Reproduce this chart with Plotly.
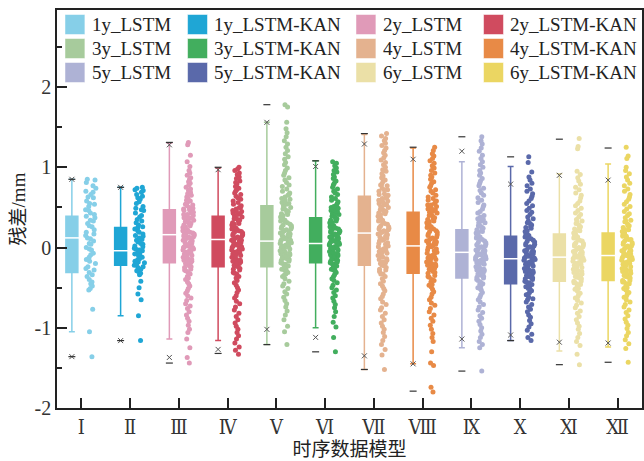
import plotly.graph_objects as go

# ---------------- data ----------------
names = ["1y_LSTM", "1y_LSTM-KAN", "2y_LSTM", "2y_LSTM-KAN", "3y_LSTM", "3y_LSTM-KAN",
         "4y_LSTM", "4y_LSTM-KAN", "5y_LSTM", "5y_LSTM-KAN", "6y_LSTM", "6y_LSTM-KAN"]
tick_labels = ["Ⅰ", "Ⅱ", "Ⅲ", "Ⅳ", "Ⅴ", "Ⅵ", "Ⅶ", "Ⅷ", "Ⅸ", "Ⅹ", "Ⅺ", "Ⅻ"]
y_tick_values = [-2, -1, 0, 1, 2]
y_tick_labels = ["-2", "-1", "0", "1", "2"]
colors = ["#86CFE8", "#1FA6D5", "#E09AB8", "#D04B5F", "#A7CB9C", "#42AE5E",
          "#E4B28F", "#E88A46", "#AEB2D5", "#5A69AA", "#EBE0A7", "#EBD662"]

q1 = [-0.31, -0.22, -0.19, -0.24, -0.24, -0.19, -0.22, -0.32, -0.38, -0.45, -0.42, -0.41]
median = [0.12, -0.04, 0.16, 0.10, 0.08, 0.05, 0.18, 0.02, -0.06, -0.14, -0.12, -0.10]
q3 = [0.39, 0.25, 0.47, 0.39, 0.52, 0.37, 0.64, 0.44, 0.22, 0.14, 0.17, 0.18]
whisker_low = [-1.05, -0.85, -1.14, -1.16, -1.21, -1.00, -1.52, -1.45, -1.25, -1.16, -1.29, -1.24]
whisker_high = [0.85, 0.75, 1.30, 0.99, 1.56, 1.08, 1.41, 1.24, 1.07, 1.01, 0.92, 1.04]
p1 = [-1.36, -1.16, -1.37, -1.27, -1.02, -1.12, -1.35, -1.45, -1.14, -1.09, -1.18, -1.19]
p99 = [0.85, 0.75, 1.28, 0.97, 1.56, 1.01, 1.29, 1.10, 1.20, 0.79, 0.90, 0.84]
min_v = [-1.36, -1.16, -1.44, -1.32, -1.21, -1.30, -1.52, -1.79, -1.54, -1.16, -1.46, -1.43]
max_v = [0.85, 0.75, 1.31, 1.00, 1.78, 1.08, 1.42, 1.25, 1.38, 1.13, 1.35, 1.24]

# residual points, spread over the full range of each column
s1 = [0.85, 0.84, 0.81, 0.77, 0.74, 0.70, 0.69, 0.66, 0.63, 0.62, 0.58, 0.55, 0.54, 0.51, 0.47, 0.46,
      0.43, 0.41, 0.39, 0.37, 0.34, 0.33, 0.30, 0.27, 0.26, 0.22, 0.19, 0.17, 0.15, 0.12, 0.11, 0.08,
      0.05, 0.04, 0.00, -0.02, -0.03, -0.07, -0.09, -0.12, -0.15, -0.17, -0.20, -0.24, -0.26, -0.28,
      -0.31, -0.34, -0.36, -0.40, -0.43, -0.45, -0.48, -0.51, -0.53, -0.77, -1.05, -1.36]
s2 = [0.75, 0.74, 0.72, 0.71, 0.69, 0.66, 0.64, 0.62, 0.60, 0.57, 0.55, 0.51, 0.49, 0.47, 0.46, 0.43,
      0.40, 0.38, 0.35, 0.33, 0.31, 0.28, 0.26, 0.25, 0.23, 0.21, 0.19, 0.17, 0.15, 0.14, 0.12, 0.10,
      0.09, 0.07, 0.05, 0.04, 0.02, 0.01, -0.01, -0.02, -0.03, -0.04, -0.05, -0.07, -0.08, -0.09,
      -0.11, -0.12, -0.14, -0.15, -0.17, -0.18, -0.19, -0.21, -0.22, -0.24, -0.25, -0.27, -0.29,
      -0.30, -0.32, -0.34, -0.42, -0.50, -0.58, -0.65, -0.85, -1.16]
s3 = [1.31, 1.28, 1.15, 1.07, 1.01, 0.96, 0.93, 0.90, 0.87, 0.85, 0.82, 0.80, 0.78, 0.75, 0.73, 0.71,
      0.69, 0.67, 0.65, 0.63, 0.61, 0.59, 0.57, 0.55, 0.54, 0.52, 0.50, 0.49, 0.47, 0.46, 0.44, 0.43,
      0.41, 0.40, 0.38, 0.37, 0.35, 0.34, 0.32, 0.31, 0.29, 0.28, 0.26, 0.25, 0.23, 0.22, 0.21, 0.19,
      0.18, 0.17, 0.16, 0.14, 0.13, 0.12, 0.10, 0.09, 0.07, 0.06, 0.04, 0.03, 0.01, 0.00, -0.02, -0.03,
      -0.05, -0.06, -0.08, -0.09, -0.11, -0.12, -0.14, -0.15, -0.17, -0.18, -0.19, -0.21, -0.23, -0.25,
      -0.27, -0.29, -0.31, -0.33, -0.36, -0.38, -0.40, -0.43, -0.45, -0.48, -0.51, -0.54, -0.57, -0.60,
      -0.63, -0.66, -0.70, -0.73, -0.76, -0.80, -0.84, -0.88, -0.92, -0.97, -1.02, -1.06, -1.14, -1.25,
      -1.37, -1.44]
s4 = [1.00, 0.98, 0.96, 0.93, 0.91, 0.88, 0.86, 0.83, 0.81, 0.79, 0.76, 0.74, 0.72, 0.70, 0.68, 0.66,
      0.64, 0.62, 0.60, 0.58, 0.56, 0.54, 0.52, 0.50, 0.48, 0.46, 0.45, 0.43, 0.41, 0.40, 0.38, 0.36,
      0.35, 0.33, 0.31, 0.30, 0.28, 0.26, 0.25, 0.23, 0.21, 0.20, 0.18, 0.17, 0.15, 0.13, 0.12, 0.10,
      0.09, 0.07, 0.05, 0.04, 0.02, 0.00, -0.01, -0.03, -0.05, -0.06, -0.08, -0.10, -0.11, -0.13, -0.15,
      -0.17, -0.18, -0.20, -0.22, -0.24, -0.26, -0.28, -0.31, -0.33, -0.36, -0.38, -0.41, -0.44, -0.47,
      -0.50, -0.53, -0.56, -0.60, -0.63, -0.67, -0.70, -0.74, -0.78, -0.82, -0.86, -0.90, -0.94, -0.98,
      -1.02, -1.06, -1.10, -1.14, -1.19, -1.24, -1.28, -1.33]
s5 = [1.78, 1.75, 1.56, 1.48, 1.43, 1.38, 1.33, 1.29, 1.25, 1.21, 1.17, 1.13, 1.10, 1.06, 1.03, 0.99,
      0.96, 0.93, 0.90, 0.87, 0.84, 0.81, 0.78, 0.76, 0.73, 0.70, 0.68, 0.65, 0.63, 0.60, 0.58, 0.56,
      0.54, 0.52, 0.50, 0.48, 0.46, 0.44, 0.42, 0.40, 0.38, 0.36, 0.34, 0.33, 0.31, 0.29, 0.27, 0.26,
      0.24, 0.22, 0.21, 0.19, 0.17, 0.16, 0.14, 0.12, 0.11, 0.09, 0.08, 0.06, 0.05, 0.03, 0.02, 0.00,
      -0.01, -0.03, -0.04, -0.06, -0.07, -0.09, -0.10, -0.12, -0.14, -0.15, -0.17, -0.19, -0.21, -0.23,
      -0.25, -0.27, -0.29, -0.31, -0.34, -0.36, -0.39, -0.42, -0.45, -0.48, -0.51, -0.55, -0.58, -0.62,
      -0.66, -0.70, -0.74, -0.79, -0.84, -0.90, -0.98, -1.05, -1.21]
s6 = [1.07, 1.05, 1.02, 0.99, 0.96, 0.94, 0.91, 0.88, 0.86, 0.83, 0.80, 0.78, 0.75, 0.73, 0.70, 0.68,
      0.66, 0.63, 0.61, 0.59, 0.57, 0.55, 0.53, 0.51, 0.49, 0.47, 0.45, 0.43, 0.41, 0.40, 0.38, 0.36,
      0.35, 0.33, 0.31, 0.30, 0.28, 0.27, 0.25, 0.24, 0.22, 0.21, 0.19, 0.18, 0.16, 0.15, 0.13, 0.12,
      0.11, 0.09, 0.08, 0.06, 0.05, 0.04, 0.02, 0.01, -0.01, -0.02, -0.04, -0.05, -0.07, -0.08, -0.10,
      -0.11, -0.13, -0.14, -0.16, -0.18, -0.19, -0.21, -0.23, -0.25, -0.27, -0.29, -0.31, -0.34, -0.36,
      -0.39, -0.41, -0.44, -0.47, -0.50, -0.53, -0.56, -0.60, -0.63, -0.67, -0.71, -0.75, -0.80, -0.86,
      -0.93, -0.99, -1.12, -1.30]
s7 = [1.42, 1.39, 1.36, 1.33, 1.30, 1.27, 1.24, 1.21, 1.18, 1.15, 1.12, 1.09, 1.06, 1.03, 1.00, 0.97,
      0.95, 0.92, 0.89, 0.87, 0.84, 0.82, 0.79, 0.77, 0.74, 0.72, 0.70, 0.67, 0.65, 0.63, 0.61, 0.59,
      0.57, 0.55, 0.53, 0.51, 0.49, 0.47, 0.45, 0.43, 0.41, 0.39, 0.37, 0.35, 0.33, 0.31, 0.29, 0.27,
      0.25, 0.23, 0.21, 0.19, 0.18, 0.16, 0.14, 0.12, 0.10, 0.08, 0.06, 0.04, 0.02, 0.00, -0.02, -0.04,
      -0.06, -0.08, -0.10, -0.12, -0.14, -0.16, -0.18, -0.20, -0.22, -0.25, -0.27, -0.30, -0.33, -0.36,
      -0.39, -0.42, -0.45, -0.48, -0.51, -0.54, -0.58, -0.61, -0.64, -0.68, -0.71, -0.75, -0.78, -0.82,
      -0.86, -0.90, -0.94, -0.98, -1.02, -1.06, -1.11, -1.16, -1.21, -1.27, -1.34, -1.52]
s8 = [1.25, 1.21, 1.17, 1.14, 1.11, 1.08, 1.05, 1.02, 0.99, 0.96, 0.93, 0.90, 0.88, 0.85, 0.82, 0.80,
      0.77, 0.75, 0.72, 0.70, 0.68, 0.65, 0.63, 0.61, 0.59, 0.57, 0.55, 0.53, 0.51, 0.49, 0.47, 0.45,
      0.43, 0.41, 0.39, 0.37, 0.35, 0.33, 0.31, 0.29, 0.27, 0.25, 0.23, 0.21, 0.19, 0.17, 0.15, 0.13,
      0.11, 0.10, 0.08, 0.06, 0.04, 0.02, 0.00, -0.02, -0.04, -0.06, -0.08, -0.10, -0.12, -0.14, -0.16,
      -0.18, -0.20, -0.22, -0.24, -0.26, -0.28, -0.30, -0.32, -0.35, -0.37, -0.40, -0.43, -0.46, -0.49,
      -0.52, -0.55, -0.58, -0.62, -0.65, -0.69, -0.72, -0.76, -0.80, -0.84, -0.88, -0.92, -0.97, -1.02,
      -1.07, -1.12, -1.17, -1.30, -1.44, -1.47, -1.74, -1.80]
s9 = [1.38, 1.33, 1.29, 1.24, 1.20, 1.15, 1.11, 1.07, 1.03, 1.00, 0.96, 0.93, 0.90, 0.86, 0.83, 0.80,
      0.77, 0.74, 0.71, 0.68, 0.65, 0.62, 0.59, 0.56, 0.53, 0.51, 0.48, 0.45, 0.43, 0.40, 0.38, 0.35,
      0.33, 0.31, 0.28, 0.26, 0.24, 0.22, 0.20, 0.18, 0.16, 0.14, 0.12, 0.10, 0.08, 0.06, 0.04, 0.03,
      0.01, -0.01, -0.03, -0.04, -0.06, -0.08, -0.09, -0.11, -0.13, -0.15, -0.16, -0.18, -0.20, -0.22,
      -0.24, -0.26, -0.28, -0.30, -0.32, -0.34, -0.36, -0.38, -0.40, -0.43, -0.45, -0.48, -0.50, -0.53,
      -0.56, -0.59, -0.62, -0.65, -0.68, -0.71, -0.74, -0.78, -0.81, -0.85, -0.88, -0.92, -0.96, -1.00,
      -1.04, -1.08, -1.12, -1.17, -1.21, -1.25, -1.54]
s10 = [1.13, 1.06, 0.94, 0.88, 0.84, 0.80, 0.77, 0.73, 0.70, 0.67, 0.64, 0.61, 0.58, 0.55, 0.52, 0.49,
       0.46, 0.44, 0.41, 0.38, 0.36, 0.33, 0.31, 0.28, 0.26, 0.24, 0.21, 0.19, 0.17, 0.15, 0.13, 0.11,
       0.09, 0.07, 0.05, 0.03, 0.01, -0.01, -0.03, -0.05, -0.07, -0.09, -0.11, -0.13, -0.14, -0.16,
       -0.18, -0.20, -0.22, -0.24, -0.26, -0.28, -0.30, -0.32, -0.34, -0.36, -0.38, -0.40, -0.42, -0.44,
       -0.46, -0.49, -0.51, -0.54, -0.56, -0.59, -0.62, -0.65, -0.68, -0.71, -0.74, -0.77, -0.80, -0.84,
       -0.87, -0.91, -0.95, -0.99, -1.03, -1.08, -1.12, -1.16]
s11 = [1.36, 1.26, 1.23, 0.95, 0.91, 0.87, 0.83, 0.79, 0.75, 0.72, 0.68, 0.65, 0.62, 0.58, 0.55, 0.52,
       0.49, 0.46, 0.43, 0.41, 0.38, 0.35, 0.33, 0.30, 0.28, 0.25, 0.23, 0.21, 0.18, 0.16, 0.14, 0.12,
       0.10, 0.08, 0.06, 0.04, 0.02, 0.00, -0.02, -0.04, -0.06, -0.08, -0.10, -0.12, -0.13, -0.15, -0.17,
       -0.19, -0.21, -0.23, -0.25, -0.27, -0.29, -0.31, -0.33, -0.35, -0.37, -0.39, -0.42, -0.44, -0.46,
       -0.49, -0.51, -0.54, -0.57, -0.60, -0.63, -0.66, -0.69, -0.72, -0.75, -0.79, -0.82, -0.86, -0.90,
       -0.94, -0.98, -1.02, -1.07, -1.12, -1.17, -1.22, -1.33, -1.46]
s12 = [1.25, 1.14, 1.11, 1.00, 0.96, 0.92, 0.88, 0.84, 0.80, 0.77, 0.73, 0.70, 0.66, 0.63, 0.60, 0.57,
       0.54, 0.51, 0.48, 0.45, 0.42, 0.40, 0.37, 0.34, 0.32, 0.29, 0.27, 0.25, 0.22, 0.20, 0.18, 0.16,
       0.14, 0.12, 0.10, 0.08, 0.06, 0.04, 0.02, 0.00, -0.02, -0.04, -0.06, -0.08, -0.10, -0.12, -0.14,
       -0.16, -0.18, -0.20, -0.22, -0.24, -0.26, -0.28, -0.30, -0.32, -0.34, -0.36, -0.38, -0.41, -0.43,
       -0.45, -0.48, -0.50, -0.53, -0.56, -0.59, -0.62, -0.65, -0.68, -0.71, -0.74, -0.78, -0.81, -0.85,
       -0.89, -0.93, -0.97, -1.01, -1.06, -1.10, -1.15, -1.20, -1.26, -1.43]

# extra residual points around the centre of each column (where the reference is densest)
c3 = [0.58, 0.53, 0.48, 0.44, 0.41, 0.37, 0.33, 0.30, 0.27, 0.24, 0.20, 0.17, 0.15, 0.11, 0.08, 0.05,
      0.02, -0.01, -0.04, -0.07, -0.10, -0.13, -0.16, -0.20, -0.24, -0.28, 0.36, 0.22, 0.13, 0.00]
c4 = [0.50, 0.45, 0.42, 0.37, 0.34, 0.29, 0.27, 0.22, 0.19, 0.16, 0.14, 0.11, 0.08, 0.06, 0.03, 0.01,
      -0.02, -0.04, -0.07, -0.09, -0.12, -0.16, -0.19, -0.23, -0.27, -0.32, 0.24, 0.09]
c5 = [0.66, 0.61, 0.55, 0.49, 0.45, 0.41, 0.37, 0.32, 0.28, 0.25, 0.20, 0.18, 0.15, 0.13, 0.10, 0.07,
      0.04, 0.01, -0.02, -0.05, -0.08, -0.11, -0.13, -0.16, -0.20, -0.24, -0.28, -0.33, 0.35, 0.23]
c6 = [0.50, 0.46, 0.42, 0.39, 0.34, 0.31, 0.29, 0.26, 0.23, 0.20, 0.17, 0.14, 0.12, 0.10, 0.07, 0.05,
      0.03, 0.00, -0.03, -0.06, -0.09, -0.12, -0.15, -0.17, -0.20, -0.24, -0.28, 0.21, 0.08, -0.01]
c7 = [0.78, 0.72, 0.66, 0.62, 0.58, 0.54, 0.50, 0.46, 0.42, 0.38, 0.34, 0.30, 0.26, 0.22, 0.19, 0.17,
      0.13, 0.09, 0.05, 0.01, -0.03, -0.07, -0.11, -0.15, -0.19, -0.23, -0.28, -0.33, 0.44, 0.24, 0.11,
      -0.05]
c8 = [0.58, 0.53, 0.48, 0.44, 0.40, 0.36, 0.32, 0.28, 0.24, 0.20, 0.16, 0.12, 0.09, 0.05, 0.03, 0.01,
      -0.03, -0.07, -0.11, -0.15, -0.19, -0.23, -0.27, -0.31, -0.36, -0.41, -0.47, 0.26, 0.07, -0.13,
      -0.21]
c9 = [0.36, 0.31, 0.27, 0.23, 0.19, 0.15, 0.11, 0.07, 0.04, 0.02, -0.02, -0.05, -0.07, -0.10, -0.12,
      -0.14, -0.17, -0.19, -0.21, -0.25, -0.29, -0.33, -0.37, -0.41, -0.46, -0.51, 0.00, -0.08, -0.15,
      -0.27, 0.13, -0.35]
c10 = [0.30, 0.25, 0.20, 0.16, 0.12, 0.08, 0.04, 0.00, -0.04, -0.08, -0.10, -0.12, -0.15, -0.17, -0.19,
       -0.23, -0.27, -0.31, -0.35, -0.39, -0.43, -0.47, -0.52, -0.58, -0.64, -0.13, -0.21, -0.29, -0.06,
       0.02, -0.37, -0.48]
c11 = [0.32, 0.26, 0.21, 0.17, 0.13, 0.09, 0.05, 0.01, -0.03, -0.07, -0.09, -0.11, -0.14, -0.16, -0.18,
       -0.22, -0.26, -0.30, -0.34, -0.38, -0.42, -0.46, -0.52, -0.57, -0.63, -0.12, -0.20, -0.28, -0.05,
       0.03, -0.36, -0.44]
c12 = [0.33, 0.27, 0.22, 0.18, 0.14, 0.10, 0.06, 0.02, -0.02, -0.06, -0.08, -0.10, -0.13, -0.15, -0.17,
       -0.21, -0.25, -0.29, -0.33, -0.37, -0.41, -0.45, -0.51, -0.56, -0.62, -0.11, -0.19, -0.27, -0.04,
       0.04, -0.35, -0.43]

samples = [s1, s2, s3 + c3, s4 + c4, s5 + c5, s6 + c6, s7 + c7, s8 + c8,
           s9 + c9, s10 + c10, s11 + c11, s12 + c12]

# ---------------- figure ----------------
W, H = 644, 461
ML, MR, MT, MB = 57, 0, 10, 53
SERIF = "Liberation Serif, Times New Roman, serif"
ROMAN = "DejaVu Serif Condensed, DejaVu Serif, serif"
CJK = "Liberation Serif, Noto Sans CJK SC, serif"

groups = list(range(1, len(names) + 1))
OFF = 0.195          # box to the left of the group tick, points to the right
fig = go.Figure()

for i, name in enumerate(names):
    c = colors[i]
    xb = groups[i] - OFF
    xp = groups[i] + OFF
    fig.add_trace(go.Box(
        x=[xb], q1=[q1[i]], median=[median[i]], q3=[q3[i]],
        lowerfence=[whisker_low[i]], upperfence=[whisker_high[i]],
        width=0.245, whiskerwidth=0.5, fillcolor=c,
        line=dict(color=c, width=1.5), boxpoints=False, showlegend=False, name=name))
    fig.add_trace(go.Box(
        x=[xp] * len(samples[i]), y=samples[i], boxpoints="all", jitter=1.0, pointpos=0,
        width=0.24, fillcolor="rgba(0,0,0,0)", line=dict(color="rgba(0,0,0,0)", width=0),
        marker=dict(color=c, size=5, opacity=1), showlegend=False, name=name))

box_x = [g - OFF for g in groups]
fig.add_trace(go.Scatter(x=box_x, y=median, mode="markers", showlegend=False,
                         marker=dict(symbol="line-ew", size=11, line=dict(color="white", width=1.5))))
fig.add_trace(go.Scatter(x=box_x + box_x, y=p1 + p99, mode="markers", showlegend=False,
                         marker=dict(symbol="x-thin", size=5, line=dict(color="#555555", width=1))))
fig.add_trace(go.Scatter(x=box_x + box_x, y=min_v + max_v, mode="markers", showlegend=False,
                         marker=dict(symbol="line-ew", size=5, line=dict(color="#333333", width=1.2))))

# ---------------- manual legend (4 columns x 3 rows) ----------------
PW, PH = W - ML - MR, H - MT - MB
def px_x(p):
    return (p - ML) / PW
def px_y(p):
    return (H - MB - p) / PH

col_swatch = [65, 188, 357, 485]
row_center = [24.5, 48.5, 72.5]
shapes, annos = [], []
for i, name in enumerate(names):
    r, cidx = divmod(i, 4)
    x0 = col_swatch[cidx]
    yc = row_center[r]
    shapes.append(dict(type="rect", xref="paper", yref="paper",
                       x0=px_x(x0), x1=px_x(x0 + 20), y0=px_y(yc + 10), y1=px_y(yc - 10),
                       fillcolor=colors[i], line=dict(color="white", width=0.5), layer="above"))
    annos.append(dict(xref="paper", yref="paper", x=px_x(x0 + 25), y=px_y(yc),
                      text=name, showarrow=False, xanchor="left", yanchor="middle",
                      font=dict(family=SERIF, size=19, color="#222222")))

fig.update_layout(
    width=W, height=H, margin=dict(l=ML, r=MR, t=MT, b=MB),
    paper_bgcolor="white", plot_bgcolor="white", boxmode="overlay",
    shapes=shapes, annotations=annos, showlegend=False,
    xaxis=dict(range=[0.5, 12.5], tickvals=groups, ticktext=tick_labels,
               ticks="inside", ticklen=10, tickwidth=1.5, tickcolor="#222",
               showline=True, linecolor="#222", linewidth=1.5, mirror=True,
               showgrid=False, zeroline=False,
               tickfont=dict(family=ROMAN, size=20, color="#333"),
               title=dict(text="时序数据模型", font=dict(family=CJK, size=19, color="#222"), standoff=5)),
    yaxis=dict(range=[-2, 2.96], tickvals=y_tick_values, ticktext=y_tick_labels,
               ticks="inside", ticklen=10, tickwidth=1.5, tickcolor="#222",
               minor=dict(tickvals=[-1.5, -0.5, 0.5, 1.5, 2.5], ticks="inside", ticklen=5,
                          tickwidth=1.5, tickcolor="#222"),
               showline=True, linecolor="#222", linewidth=1.5, mirror=True,
               showgrid=False, zeroline=False,
               tickfont=dict(family=SERIF, size=20, color="#333"),
               title=dict(text="残差/mm", font=dict(family=CJK, size=19, color="#222"), standoff=4)),
)

fig.write_html("out.html")
